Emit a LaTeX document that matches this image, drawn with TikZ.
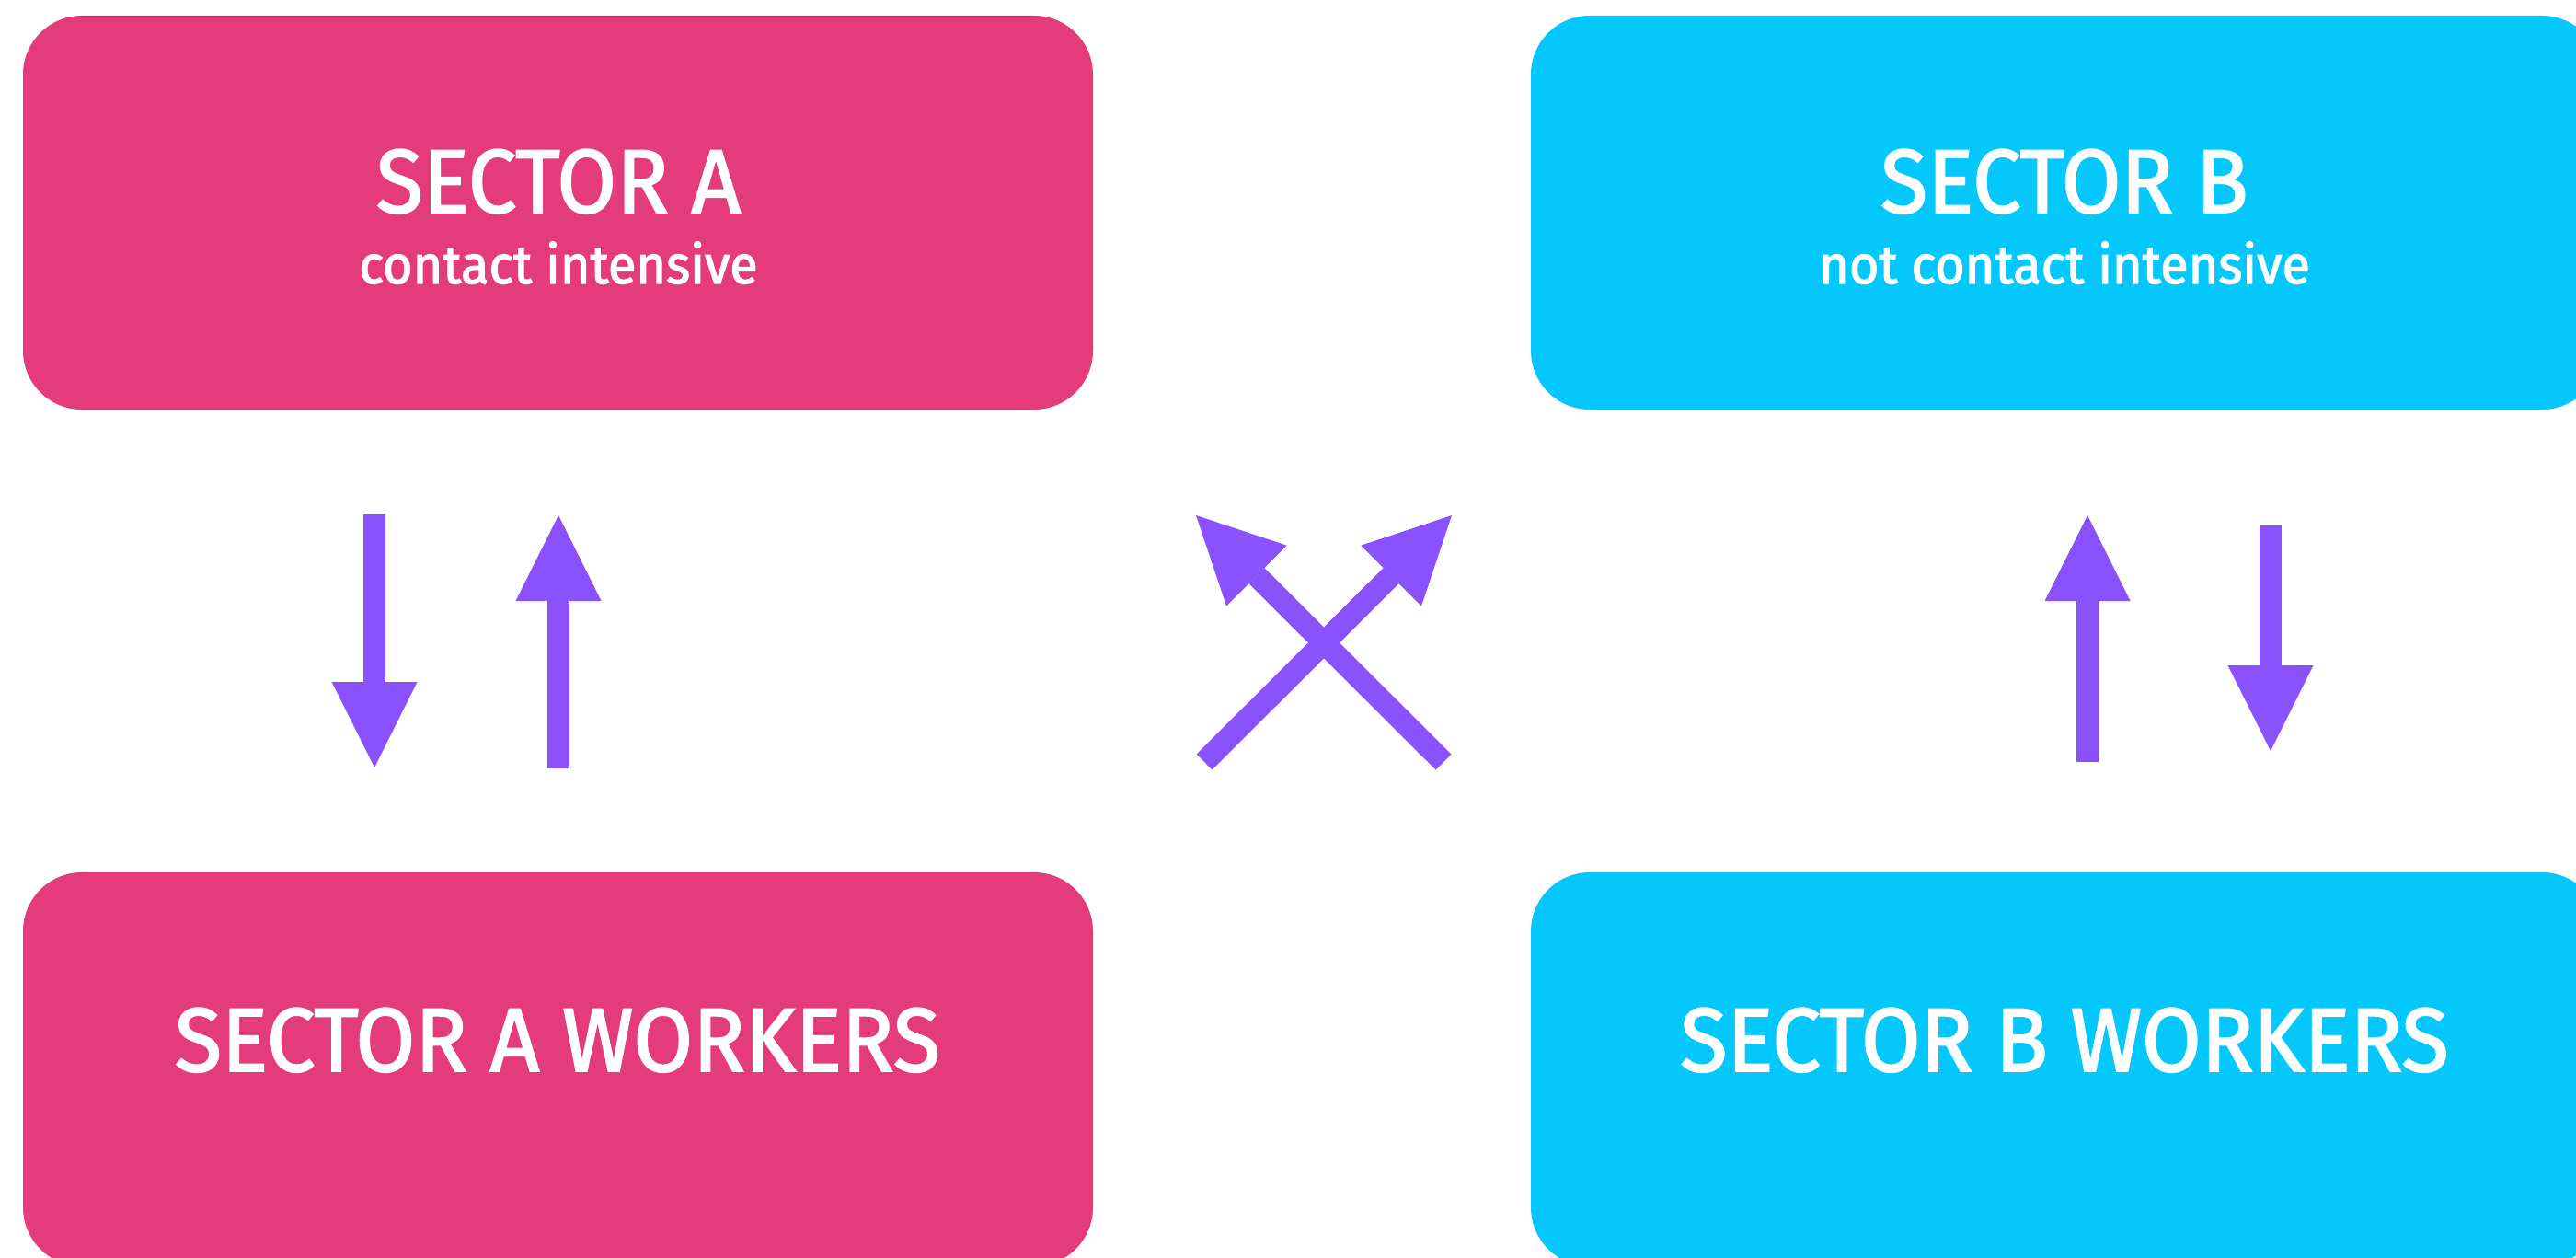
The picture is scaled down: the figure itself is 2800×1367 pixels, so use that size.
\documentclass[tikz,border=0pt]{standalone}
\usepackage{fontspec}
\setmainfont{Fira Sans}[FakeBold=2,FakeStretch=0.955]
\usetikzlibrary{arrows.meta}
\definecolor{secpink}{HTML}{E43C7A}
\definecolor{secblue}{HTML}{04C7FB}
\definecolor{arrpurple}{HTML}{8952FC}
\tikzset{
  sectorbox/.style={rectangle, rounded corners=64pt, minimum width=1163pt, minimum height=428pt, inner sep=0pt, draw=none},
  titletext/.style={text=white, anchor=base, inner sep=0pt, font=\fontsize{98}{110}\selectfont},
  subtext/.style={text=white, anchor=base, inner sep=0pt, font=\fontsize{58.5}{70}\selectfont},
  flowarrow/.style={draw=arrpurple, line width=24pt, -{Triangle[length=93pt,width=93pt,line width=0pt]}}
}
\begin{document}
\begin{tikzpicture}[x=1pt,y=-1pt]
\useasboundingbox (0,0) rectangle (2800,1367);
\clip (0,0) rectangle (2800,1367);
\node[sectorbox, fill=secpink] (secA) at (606.5,231) {};
\node[sectorbox, fill=secblue] (secB) at (2245.5,231) {};
\node[sectorbox, fill=secpink] (wkA) at (606.5,1162) {};
\node[sectorbox, fill=secblue] (wkB) at (2245.5,1162) {};
\node[titletext] (secAt) at (607,231) {SECTOR A};
\node[subtext] (secAs) at (607,308) {contact intensive};
\node[titletext] (secBt) at (2244,231) {SECTOR B};
\node[subtext] (secBs) at (2244,308) {not contact intensive};
\node[titletext] (wkAt) at (606,1164) {SECTOR A WORKERS};
\node[titletext] (wkBt) at (2244,1164) {SECTOR B WORKERS};
% arrow end points
\coordinate (a1s) at (407,559);
\coordinate (a1e) at (407,834);
\coordinate (a2s) at (607,835);
\coordinate (a2e) at (607,560);
\coordinate (x1s) at (1569,828);
\coordinate (x1e) at (1300,560);
\coordinate (x2s) at (1309,828);
\coordinate (x2e) at (1578,560);
\coordinate (b1s) at (2269,828);
\coordinate (b1e) at (2269,560);
\coordinate (b2s) at (2468,571);
\coordinate (b2e) at (2468,816);
\draw[flowarrow] (a1s) -- (a1e);
\draw[flowarrow] (a2s) -- (a2e);
\draw[flowarrow] (x1s) -- (x1e);
\draw[flowarrow] (x2s) -- (x2e);
\draw[flowarrow] (b1s) -- (b1e);
\draw[flowarrow] (b2s) -- (b2e);
\end{tikzpicture}
\end{document}
